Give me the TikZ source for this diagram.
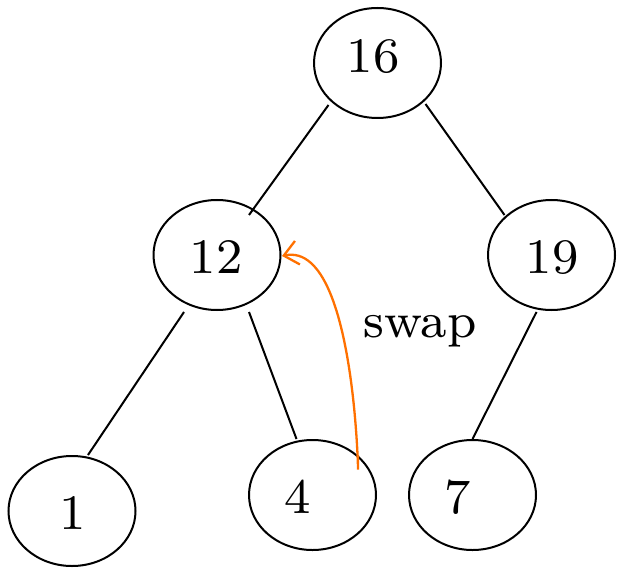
\documentclass[tikz,border=0pt]{standalone}
\usetikzlibrary{shapes.geometric,arrows.meta}
\definecolor{swaporange}{RGB}{255,112,0}
\begin{document}
\begin{tikzpicture}[x=1pt,y=-1pt,
  keynode/.style={draw=black, line width=2pt, ellipse, inner sep=0pt,
    minimum width=127pt, minimum height=110pt},
  lbl/.style={inner sep=0pt, anchor=base, font=\fontsize{8}{9.6}\selectfont, scale=6.2, transform shape},
  edge/.style={draw=black, line width=2pt},
  swaparrow/.style={draw=swaporange, line width=2.3pt, -{Straight Barb[length=14pt,width=24pt,line width=2.3pt]}}
]
\useasboundingbox (0,0) rectangle (617,569);

\node[keynode] (n16) at (377.5,63) {};
\node[keynode] (n12) at (217,255) {};
\node[keynode] (n19) at (551.5,255) {};
\node[keynode] (n1)  at (72,511) {};
\node[keynode] (n4)  at (312.5,495) {};
\node[keynode] (n7)  at (472.5,495) {};

\node[lbl] (t16) at (373,73) {16};
\node[lbl] (t12) at (216,273) {12};
\node[lbl] (t19) at (552,273) {19};
\node[lbl] (t1)  at (73,529) {1};
\node[lbl] (t4)  at (298,513) {4};
\node[lbl] (t7)  at (458,513) {7};

\draw[edge] ([shift={(-49,42)}]n16.center) -- ([shift={(32,-40)}]n12.center);
\draw[edge] ([shift={(48,41)}]n16.center) -- ([shift={(-47,-40)}]n19.center);
\draw[edge] ([shift={(-33,57)}]n12.center) -- ([shift={(16,-56)}]n1.center);
\draw[edge] ([shift={(32,57)}]n12.center) -- ([shift={(-16,-56)}]n4.center);
\draw[edge] ([shift={(-15,57)}]n19.center) -- ([shift={(0,-56)}]n7.center);

\draw[swaparrow] ([shift={(45.5,-40)}]n4.center) to[out=-90,in=12] ([shift={(65,1)}]n12.center);

\node[lbl] (swaplbl) at (420,337) {swap};
\end{tikzpicture}
\end{document}
